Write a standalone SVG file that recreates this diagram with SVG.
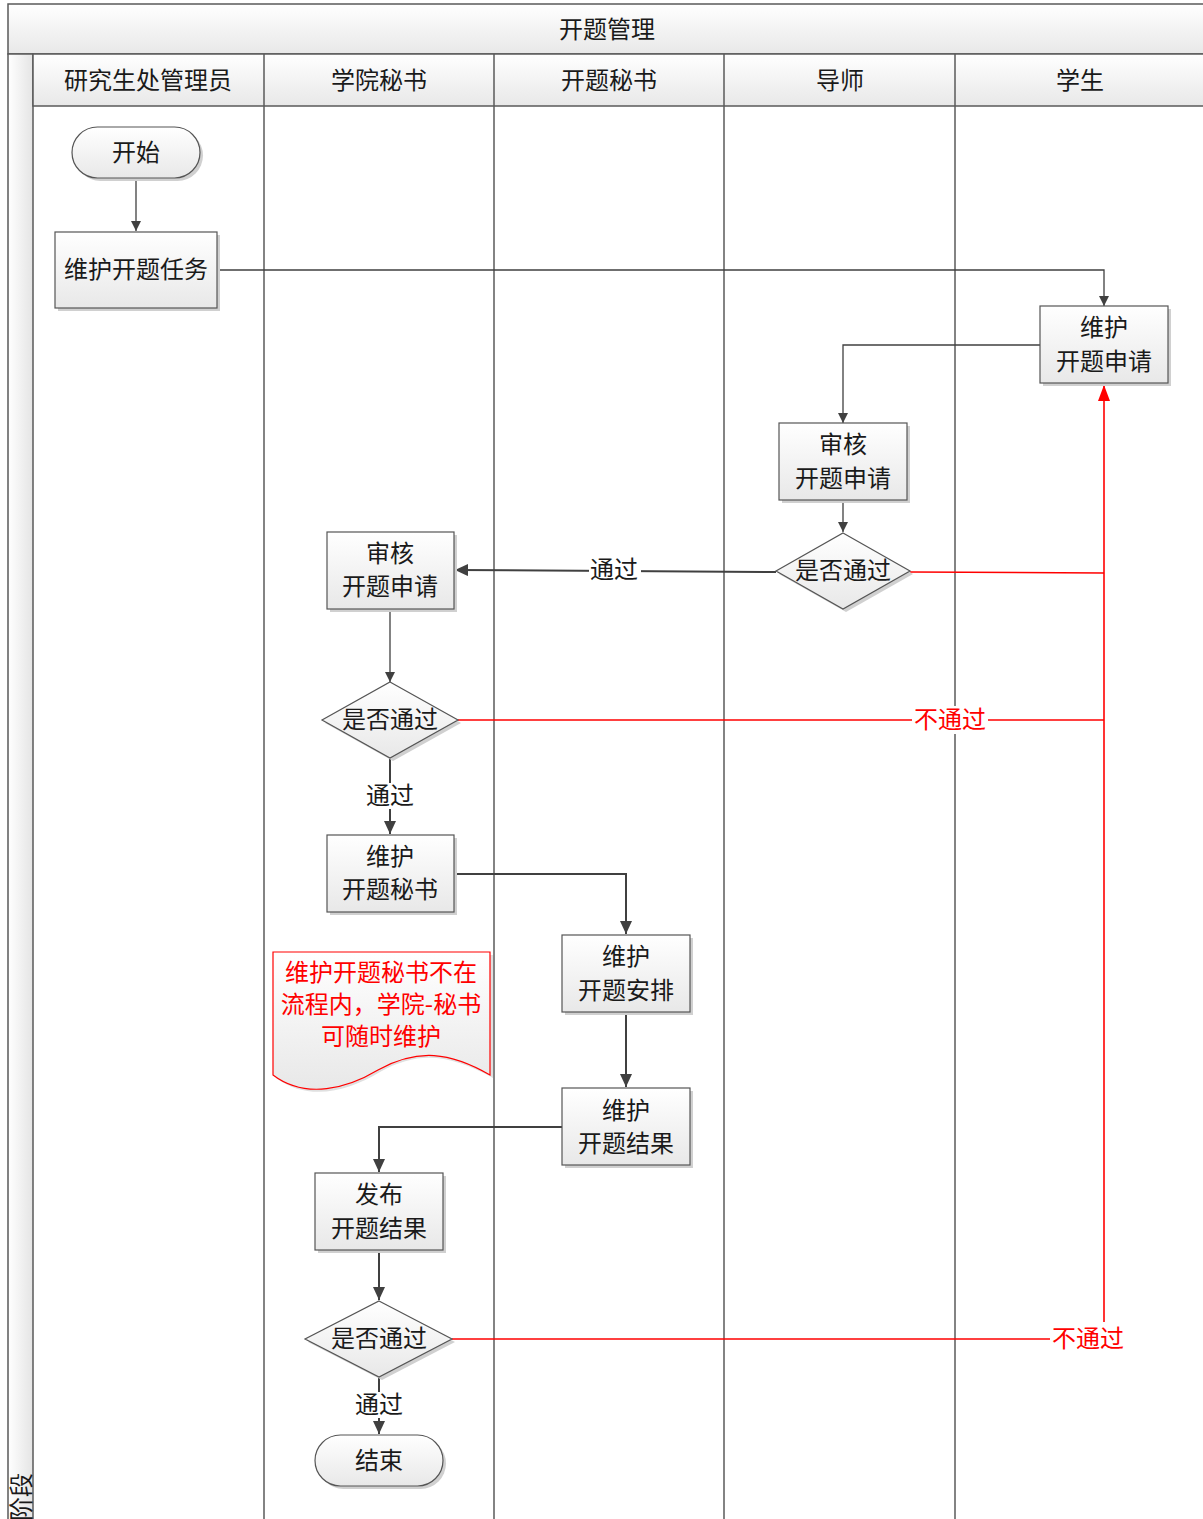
<svg xmlns="http://www.w3.org/2000/svg" width="1203" height="1519" viewBox="0 0 1203 1519">
<defs>
<linearGradient id="gv" x1="0" y1="0" x2="0" y2="1"><stop offset="0" stop-color="#ffffff"/><stop offset="1" stop-color="#e8e8e8"/></linearGradient>
<linearGradient id="gh" x1="0" y1="0" x2="1" y2="0"><stop offset="0" stop-color="#ffffff"/><stop offset="1" stop-color="#e4e4e4"/></linearGradient>
<marker id="ar" viewBox="0 0 10 10" refX="10" refY="5" markerWidth="10" markerHeight="10" markerUnits="userSpaceOnUse" orient="auto"><path d="M0,0 L10,5 L0,10 Z" fill="#404040"/></marker>
<marker id="arb" viewBox="0 0 10 10" refX="10" refY="5" markerWidth="13" markerHeight="12" markerUnits="userSpaceOnUse" orient="auto" preserveAspectRatio="none"><path d="M0,0 L10,5 L0,10 Z" fill="#404040"/></marker>
<marker id="arr" viewBox="0 0 10 10" refX="10" refY="5" markerWidth="16" markerHeight="12" markerUnits="userSpaceOnUse" orient="auto" preserveAspectRatio="none"><path d="M0,0 L10,5 L0,10 Z" fill="#ff0000"/></marker>
</defs>
<style>
text{font-family:"Noto Sans CJK SC","Liberation Sans",sans-serif;font-size:24px;fill:#1a1a1a;text-anchor:middle;dominant-baseline:central}
.lane{stroke:#5a5a5a;stroke-width:1.5;fill:none}
.box{fill:url(#gv);stroke:#555;stroke-width:1.2}
.sh{fill:#d0d0d0}
.ln{stroke:#404040;stroke-width:1.3;fill:none}
.lnb{stroke:#404040;stroke-width:2;fill:none}
.red{stroke:#ff0000;stroke-width:1.6;fill:none}
.rt{fill:#ff0000}
.lbl{fill:#ffffff}
</style>
<rect width="1203" height="1519" fill="#ffffff"/>
<g id="pool">
<rect x="8" y="4" width="1200" height="50" fill="url(#gv)" stroke="#5a5a5a" stroke-width="1.5"/>
<text x="607" y="27">开题管理</text>
<rect x="8" y="54" width="25" height="1470" fill="url(#gh)" stroke="#5a5a5a" stroke-width="1.5"/>
<text transform="translate(30,1521) rotate(-90)" style="text-anchor:start;dominant-baseline:alphabetic">阶段</text>
<rect x="33" y="54" width="1175" height="52" fill="url(#gv)" stroke="#5a5a5a" stroke-width="1.5"/>
<line class="lane" x1="264" y1="54" x2="264" y2="1519"/>
<line class="lane" x1="494" y1="54" x2="494" y2="1519"/>
<line class="lane" x1="724" y1="54" x2="724" y2="1519"/>
<line class="lane" x1="955" y1="54" x2="955" y2="1519"/>
<text x="148" y="78">研究生处管理员</text>
<text x="379" y="78">学院秘书</text>
<text x="609" y="78">开题秘书</text>
<text x="840" y="78">导师</text>
<text x="1080" y="78">学生</text>
</g>
<g id="connectors">
<line class="ln" x1="136" y1="178" x2="136" y2="231" marker-end="url(#ar)"/>
<polyline class="ln" points="217,270 1104,270 1104,306" marker-end="url(#ar)"/>
<polyline class="ln" points="1040,345 843,345 843,423" marker-end="url(#ar)"/>
<line class="ln" x1="843" y1="500" x2="843" y2="532" marker-end="url(#ar)"/>
<polyline class="lnb" points="776,572 455,570" marker-end="url(#arb)"/>
<rect class="lbl" x="589" y="557" width="52" height="26"/>
<text x="614" y="567">通过</text>
<line class="ln" x1="390" y1="609" x2="390" y2="682" marker-end="url(#ar)"/>
<line class="lnb" x1="390" y1="758" x2="390" y2="834" marker-end="url(#arb)"/>
<rect class="lbl" x="364" y="783" width="52" height="26"/>
<text x="390" y="793">通过</text>
<polyline class="lnb" points="454,874 626,874 626,934" marker-end="url(#arb)"/>
<line class="lnb" x1="626" y1="1012" x2="626" y2="1087" marker-end="url(#arb)"/>
<polyline class="lnb" points="562,1127 379,1127 379,1172" marker-end="url(#arb)"/>
<line class="lnb" x1="379" y1="1250" x2="379" y2="1300" marker-end="url(#arb)"/>
<line class="lnb" x1="379" y1="1377" x2="379" y2="1434" marker-end="url(#arb)"/>
<rect class="lbl" x="353" y="1392" width="52" height="26"/>
<text x="379" y="1402">通过</text>
<polyline class="red" points="910,572 1104,573"/>
<polyline class="red" points="458,720 1104,720"/>
<polyline class="red" points="452,1339 1050,1339"/>
<line class="red" x1="1104" y1="1322" x2="1104" y2="385" marker-end="url(#arr)"/>
<rect class="lbl" x="912" y="706" width="76" height="28"/>
<text class="rt" x="950" y="717">不通过</text>
<text class="rt" x="1088" y="1336">不通过</text>
</g>
<g id="start">
<rect class="sh" x="75" y="130" width="128" height="51" rx="25.5"/>
<rect class="box" x="72" y="127" width="128" height="51" rx="25.5"/>
<text x="136" y="150">开始</text>
</g>
<g id="task">
<rect class="sh" x="58" y="235" width="162" height="76"/>
<rect class="box" x="55" y="232" width="162" height="76"/>
<text x="136" y="267">维护开题任务</text>
</g>
<g id="apply">
<rect class="sh" x="1043" y="309" width="128" height="77"/>
<rect class="box" x="1040" y="306" width="128" height="77"/>
<text x="1104" y="325">维护</text>
<text x="1104" y="359">开题申请</text>
</g>
<g id="review1">
<rect class="sh" x="782" y="426" width="128" height="77"/>
<rect class="box" x="779" y="423" width="128" height="77"/>
<text x="843" y="442">审核</text>
<text x="843" y="476">开题申请</text>
</g>
<g id="dec1">
<polygon class="sh" points="846,536 913,574 846,612 779,574"/>
<polygon class="box" points="843,533 910,571 843,609 776,571"/>
<text x="843" y="568">是否通过</text>
</g>
<g id="review2">
<rect class="sh" x="330" y="535" width="127" height="77"/>
<rect class="box" x="327" y="532" width="127" height="77"/>
<text x="390" y="551">审核</text>
<text x="390" y="584">开题申请</text>
</g>
<g id="dec2">
<polygon class="sh" points="393,685 461,723 393,761 325,723"/>
<polygon class="box" points="390,682 458,720 390,758 322,720"/>
<text x="390" y="717">是否通过</text>
</g>
<g id="sec">
<rect class="sh" x="330" y="838" width="127" height="77"/>
<rect class="box" x="327" y="835" width="127" height="77"/>
<text x="390" y="854">维护</text>
<text x="390" y="887">开题秘书</text>
</g>
<g id="note">
<path d="M276,955 L493,955 L493,1078 C450,1055 420,1050 380,1072 C350,1090 310,1103 276,1078 Z" fill="#e0e0e0"/>
<path d="M273,952 L490,952 L490,1075 C450,1052 418,1048 378,1070 C348,1088 306,1100 273,1075 Z" fill="url(#gv)" stroke="#ff0000" stroke-width="1.2"/>
<text class="rt" x="381" y="970">维护开题秘书不在</text>
<text class="rt" x="381" y="1002">流程内，学院-秘书</text>
<text class="rt" x="381" y="1034">可随时维护</text>
</g>
<g id="arrange">
<rect class="sh" x="565" y="938" width="128" height="77"/>
<rect class="box" x="562" y="935" width="128" height="77"/>
<text x="626" y="954">维护</text>
<text x="626" y="988">开题安排</text>
</g>
<g id="result">
<rect class="sh" x="565" y="1091" width="128" height="77"/>
<rect class="box" x="562" y="1088" width="128" height="77"/>
<text x="626" y="1108">维护</text>
<text x="626" y="1141">开题结果</text>
</g>
<g id="publish">
<rect class="sh" x="318" y="1176" width="128" height="77"/>
<rect class="box" x="315" y="1173" width="128" height="77"/>
<text x="379" y="1192">发布</text>
<text x="379" y="1226">开题结果</text>
</g>
<g id="dec3">
<polygon class="sh" points="382,1304 455,1342 382,1380 308,1342"/>
<polygon class="box" points="379,1301 452,1339 379,1377 305,1339"/>
<text x="379" y="1336">是否通过</text>
</g>
<g id="end">
<rect class="sh" x="318" y="1438" width="128" height="51" rx="25.5"/>
<rect class="box" x="315" y="1435" width="128" height="51" rx="25.5"/>
<text x="379" y="1458">结束</text>
</g>
</svg>
